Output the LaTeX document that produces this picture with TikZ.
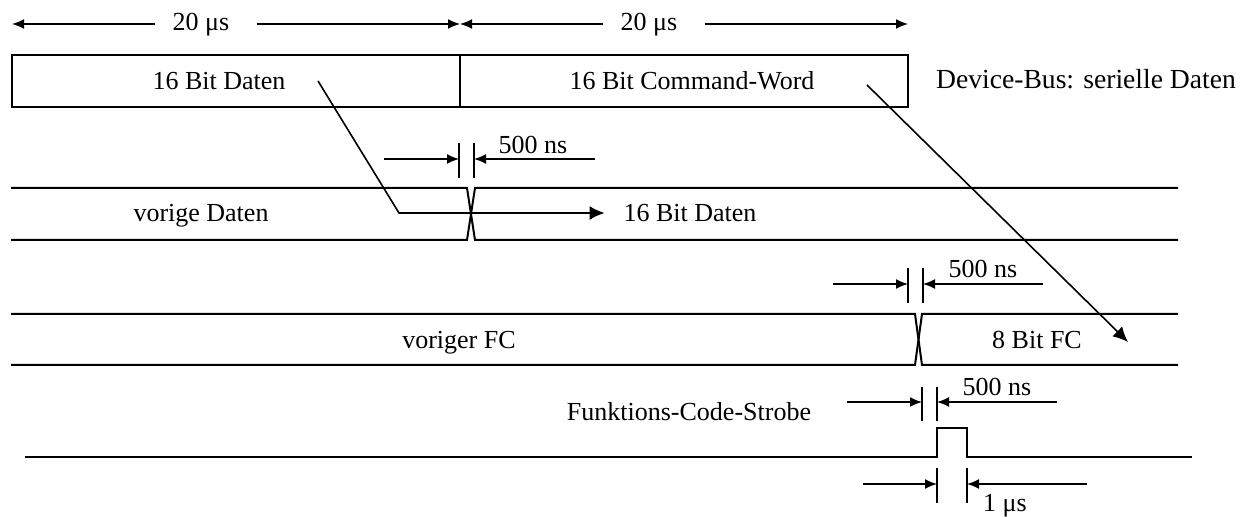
\documentclass[tikz,border=0pt]{standalone}
\usepackage{fontspec}
\setmainfont{Liberation Serif}
\usetikzlibrary{arrows.meta}
\begin{document}
\begin{tikzpicture}[x=0.5pt,y=-0.5pt,
  font=\fontsize{13}{15}\selectfont,
  sig/.style={line width=1pt},
  boxed/.style={draw,line width=1.1pt,minimum width=224pt,minimum height=26pt,inner sep=0pt},
  dim/.style={line width=0.8pt,-{Latex[length=6pt,width=5pt]}},
  tick/.style={line width=0.8pt},
  pointer/.style={line width=0.8pt},
  bigtip/.style={-{Latex[length=7.5pt,width=7pt]}},
  lbl/.style={inner sep=0pt}]
\useasboundingbox (0,0) rectangle (1248,517);

% top dimension arrows
\coordinate (d0) at (12,24);
\coordinate (d1) at (460,24);
\coordinate (d2) at (908,24);
\node[lbl] (t1) at (201,25) {20 μs};
\node[lbl] (t2) at (649,25) {20 μs};
\draw[dim] ([xshift=-8.5pt]t1.west |- d0) -- (d0);
\draw[dim] ([xshift=13.5pt]t1.east |- d0) -- (d1);
\draw[dim] ([xshift=-8.5pt]t2.west |- d1) -- (d1);
\draw[dim] ([xshift=13.5pt]t2.east |- d1) -- (d2);

% serial data boxes
\node[boxed] (bA) at (236,81) {};
\node[boxed] (bB) at (684,81) {};
\node (bAt) at (219,81) {16 Bit Daten};
\node (bBt) at (692,81) {16 Bit Command-Word};
\node (dev) at (1086,79) {\fontsize{13.8}{15}\selectfont Device-Bus: serielle Daten};

% data bus
\draw[sig] (11,188) -- (467,188) -- (475,240) -- (1178,240);
\draw[sig] (11,240) -- (467,240) -- (475,188) -- (1178,188);
\node (vd) at (201,216) {vorige Daten};
\node (nd) at (690,213) {16 Bit Daten};

% function code bus
\draw[sig] (11,314) -- (915,314) -- (922,365) -- (1178,365);
\draw[sig] (11,365) -- (915,365) -- (922,314) -- (1178,314);
\node (vf) at (459,343) {voriger FC};
\node (nf) at (1037,340) {8 Bit FC};

% strobe
\draw[sig] (25,457) -- (937,457) -- (937,428) -- (967,428) -- (967,457) -- (1192,457);
\node (fs) at (689,412) {Funktions-Code-Strobe};

% pointer arrows
\coordinate (a1) at (318,81);
\coordinate (a2) at (399,213);
\draw[pointer,bigtip,shorten >=6pt] (a1) -- (a2) -- (nd.west);
\coordinate (b1) at (867,85);
\coordinate (b2) at (1128,342);
\draw[pointer,bigtip] (b1) -- (b2);

% 500 ns markers (data bus)
\draw[tick] (459,143) -- (459,178);
\draw[tick] (474,143) -- (474,178);
\coordinate (m1l) at (384,159);
\coordinate (m1r) at (595,159);
\draw[dim] (m1l) -- (459,159);
\draw[dim] (m1r) -- (474,159);
\node[lbl] (n1) at (533,145) {500 ns};

% 500 ns markers (FC bus)
\draw[tick] (908,268) -- (908,303);
\draw[tick] (923,268) -- (923,303);
\coordinate (m2l) at (833,284);
\coordinate (m2r) at (1043,284);
\draw[dim] (m2l) -- (908,284);
\draw[dim] (m2r) -- (923,284);
\node[lbl] (n2) at (983,269) {500 ns};

% 500 ns markers (strobe)
\draw[tick] (922,387) -- (922,421);
\draw[tick] (937,387) -- (937,421);
\coordinate (m3l) at (847,402);
\coordinate (m3r) at (1057,402);
\draw[dim] (m3l) -- (922,402);
\draw[dim] (m3r) -- (937,402);
\node[lbl] (n3) at (997,387) {500 ns};

% 1 us markers
\draw[tick] (937,468) -- (937,503);
\draw[tick] (967,468) -- (967,503);
\coordinate (m4l) at (863,484);
\coordinate (m4r) at (1087,484);
\draw[dim] (m4l) -- (937,484);
\draw[dim] (m4r) -- (967,484);
\node[lbl] (n4) at (1005,506) {1 μs};
\end{tikzpicture}
\end{document}
